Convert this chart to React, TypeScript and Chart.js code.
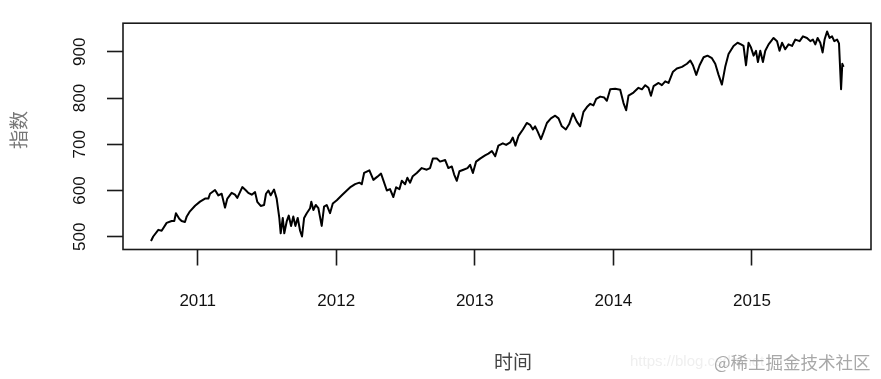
import React, { useEffect, useRef } from "react";
import { Chart, registerables } from "chart.js";

Chart.register(...registerables);

// Decimal year of each observation
const years: number[] = [
  2010.663, 2010.679, 2010.716, 2010.74, 2010.776, 2010.812, 2010.831, 2010.843, 2010.867, 2010.884,
  2010.908, 2010.921, 2010.944, 2010.981, 2011.017, 2011.053, 2011.077, 2011.089, 2011.125, 2011.149,
  2011.173, 2011.197, 2011.214, 2011.245, 2011.269, 2011.286, 2011.322, 2011.349, 2011.365, 2011.39,
  2011.414, 2011.43, 2011.455, 2011.479, 2011.493, 2011.51, 2011.527, 2011.551, 2011.57, 2011.589,
  2011.599, 2011.614, 2011.625, 2011.643, 2011.657, 2011.674, 2011.69, 2011.705, 2011.722, 2011.739,
  2011.753, 2011.768, 2011.787, 2011.811, 2011.82, 2011.835, 2011.852, 2011.871, 2011.895, 2011.912,
  2011.931, 2011.955, 2011.975, 2012.004, 2012.04, 2012.076, 2012.105, 2012.136, 2012.167, 2012.184,
  2012.201, 2012.239, 2012.268, 2012.297, 2012.323, 2012.34, 2012.365, 2012.388, 2012.412, 2012.432,
  2012.456, 2012.473, 2012.497, 2012.513, 2012.533, 2012.552, 2012.581, 2012.617, 2012.653, 2012.677,
  2012.697, 2012.726, 2012.749, 2012.786, 2012.809, 2012.834, 2012.851, 2012.87, 2012.889, 2012.918,
  2012.947, 2012.966, 2012.986, 2013.009, 2013.038, 2013.074, 2013.098, 2013.123, 2013.147, 2013.17,
  2013.202, 2013.226, 2013.255, 2013.274, 2013.293, 2013.315, 2013.347, 2013.375, 2013.399, 2013.419,
  2013.435, 2013.452, 2013.477, 2013.495, 2013.52, 2013.549, 2013.58, 2013.604, 2013.628, 2013.657,
  2013.681, 2013.708, 2013.736, 2013.76, 2013.784, 2013.809, 2013.833, 2013.856, 2013.876, 2013.905,
  2013.934, 2013.953, 2013.977, 2014.013, 2014.049, 2014.073, 2014.092, 2014.109, 2014.145, 2014.181,
  2014.206, 2014.23, 2014.253, 2014.271, 2014.29, 2014.326, 2014.35, 2014.374, 2014.398, 2014.43,
  2014.458, 2014.495, 2014.531, 2014.555, 2014.574, 2014.598, 2014.622, 2014.651, 2014.679, 2014.711,
  2014.735, 2014.759, 2014.783, 2014.807, 2014.831, 2014.867, 2014.896, 2014.921, 2014.939, 2014.957,
  2014.975, 2014.993, 2015.012, 2015.029, 2015.043, 2015.06, 2015.079, 2015.096, 2015.12, 2015.156,
  2015.181, 2015.199, 2015.217, 2015.24, 2015.264, 2015.289, 2015.313, 2015.344, 2015.368, 2015.397,
  2015.421, 2015.44, 2015.457, 2015.474, 2015.493, 2015.51, 2015.524, 2015.542, 2015.56, 2015.578,
  2015.594, 2015.614, 2015.628, 2015.643, 2015.652, 2015.661,
];

// Index values
const values: number[] = [
  490.8, 500.6, 515, 513, 530, 534, 534, 551, 539, 534,
  532, 544, 555, 567, 576, 582.5, 582.5, 593, 601, 589.5,
  593, 563, 582.5, 595, 591, 584, 607.5, 600, 595, 591,
  596.5, 575.6, 566.7, 568.7, 593, 600, 589.6, 602, 582.5, 540.8,
  507.5, 540.8, 507.5, 534, 545.8, 523.5, 544, 523.5, 540.8, 513,
  500.6, 540.8, 551, 561.7, 575.6, 558, 568.7, 561.7, 523.5, 565,
  568.7, 551, 572, 579, 589.6, 600, 608, 613.7, 617, 613.7,
  638, 643.7, 623, 630, 636.7, 622, 600, 603, 586, 607,
  603, 621, 613.7, 627.7, 617, 631, 638, 648.5, 645, 648.5,
  669, 669, 662.5, 665.8, 648.5, 652, 634.6, 621, 641.7, 645,
  648.5, 655.4, 638, 662.5, 669, 676, 679.8, 685.4, 674, 697,
  702, 698.5, 704, 714.6, 697, 718, 732, 746, 742, 732,
  738.8, 728.3, 711, 725, 746, 756, 761.7, 756, 738.8, 732,
  743.7, 766.7, 749, 738.8, 770, 780.4, 787.5, 784, 798, 803,
  801, 794, 818.8, 820, 818, 789, 773.5, 805, 811.7, 822,
  818.8, 827.7, 822, 804.8, 825.6, 832.5, 827.7, 836, 832.5, 856.9,
  863.8, 867.3, 874, 881, 870.8, 850, 870.8, 888, 891.5, 886,
  874, 850, 829, 867.3, 895, 912.5, 919.4, 916, 912.5, 870.8,
  919.4, 909, 891.5, 902, 877.7, 902, 877.7, 902, 916, 929.8,
  922.9, 902, 919.4, 905.4, 916, 912.5, 926.3, 922.9, 933.3, 929.8,
  922.9, 926.3, 916, 929.8, 919.4, 898.5, 926.3, 943.8, 929.8, 933.3,
  922.9, 926.3, 918, 818.8, 874, 867.3,
];

const xTicks: number[] = [2011, 2012, 2013, 2014, 2015];
const yTicks: number[] = [500, 600, 700, 800, 900];

const xTitle = "时间";
const yTitle = "指数";
const watermark = "@稀土掘金技术社区";
const watermarkFaint = "https://blog.csdn.net";

const W = 881;
const H = 379;

export default function App() {
  const ref = useRef<HTMLCanvasElement | null>(null);

  useEffect(() => {
    const canvas = ref.current;
    if (!canvas) return;
    const tickFont = { family: "'Liberation Sans', Arial, sans-serif", size: 17 };

    const decor = {
      id: "decor",
      afterDatasetsDraw(chart: any) {
        const { ctx, chartArea } = chart;
        ctx.save();
        ctx.strokeStyle = "#1a1a1a";
        ctx.lineWidth = 1.6;
        ctx.strokeRect(chartArea.left, chartArea.top, chartArea.right - chartArea.left, chartArea.bottom - chartArea.top);
        ctx.restore();
      },
      afterDraw(chart: any) {
        const { ctx } = chart;
        ctx.save();
        ctx.font = "19px 'Noto Sans CJK SC', sans-serif";
        ctx.textAlign = "center";
        ctx.textBaseline = "middle";
        // y title
        ctx.fillStyle = "#777";
        ctx.translate(19, 130);
        ctx.rotate(-Math.PI / 2);
        ctx.fillText(yTitle, 0, 0);
        ctx.restore();

        ctx.save();
        ctx.font = "19px 'Noto Sans CJK SC', sans-serif";
        ctx.textBaseline = "middle";
        ctx.textAlign = "center";
        ctx.fillStyle = "#444";
        ctx.fillText(xTitle, 513, 362);
        ctx.textAlign = "left";
        ctx.fillStyle = "#efefef";
        ctx.font = "15px 'Liberation Sans', sans-serif";
        ctx.fillText(watermarkFaint, 630, 362);
        ctx.font = "17.5px 'Noto Sans CJK SC', sans-serif";
        ctx.fillStyle = "#a8a8a8";
        ctx.fillText(watermark, 714, 362);
        ctx.restore();
      },
    };

    const chart = new Chart(canvas, {
      type: "line",
      data: {
        datasets: [
          {
            data: years.map((x, i) => ({ x, y: values[i] })),
            borderColor: "#000",
            borderWidth: 2,
            borderJoinStyle: "round",
            pointRadius: 0,
            tension: 0,
            fill: false,
          },
        ],
      },
      options: {
        animation: false,
        responsive: false,
        maintainAspectRatio: false,
        layout: { padding: { top: 15, right: 10, left: 0, bottom: 0 } },
        plugins: { legend: { display: false }, tooltip: { enabled: false } },
        scales: {
          x: {
            type: "linear",
            position: "bottom",
            min: 2010.461,
            max: 2015.859,
            afterBuildTicks: (s: any) => {
              s.ticks = xTicks.map((v) => ({ value: v }));
            },
            afterFit: (s: any) => {
              s.height = 129.5;
            },
            grid: {
              drawOnChartArea: false,
              drawTicks: true,
              tickLength: 16,
              tickWidth: 1.6,
              tickColor: "#1a1a1a",
            },
            border: { display: false },
            ticks: {
              autoSkip: false,
              maxRotation: 0,
              padding: 26,
              color: "#111",
              font: tickFont,
              callback: (v: any) => String(v),
            },
          },
          y: {
            type: "linear",
            position: "left",
            min: 472.5,
            max: 961.7,
            afterBuildTicks: (s: any) => {
              s.ticks = yTicks.map((v) => ({ value: v }));
            },
            afterFit: (s: any) => {
              s.width = 123;
            },
            grid: {
              drawOnChartArea: false,
              drawTicks: true,
              tickLength: 16,
              tickWidth: 1.6,
              tickColor: "#1a1a1a",
            },
            border: { display: false },
            ticks: {
              minRotation: 90,
              maxRotation: 90,
              crossAlign: "center",
              padding: 13,
              color: "#111",
              font: tickFont,
              callback: (v: any) => String(v),
            },
          },
        },
      },
      plugins: [decor],
    } as any);

    return () => chart.destroy();
  }, []);

  return (
    <div style={{ position: "absolute", left: 0, top: 0, width: W, height: H, background: "#fff" }}>
      <canvas ref={ref} width={W} height={H} style={{ display: "block", width: W, height: H }} />
    </div>
  );
}
